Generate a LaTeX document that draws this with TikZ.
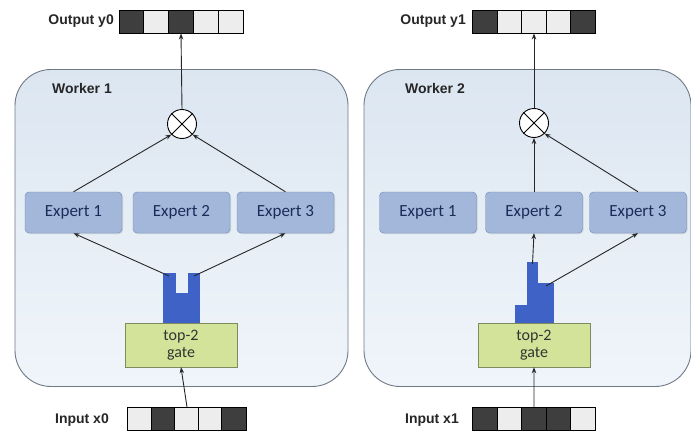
\documentclass[tikz,border=0pt]{standalone}
\usepackage{fontspec}
\setmainfont{Liberation Sans}
\newfontfamily\carlito{Carlito}
\usetikzlibrary{arrows.meta,shadows}
\definecolor{wbg}{HTML}{DCE6F1}
\definecolor{wbg2}{HTML}{F0F5FA}
\definecolor{wline}{HTML}{6F7A86}
\definecolor{expfill}{HTML}{A2B7DA}
\definecolor{expline}{HTML}{7189B6}
\definecolor{exptext}{HTML}{1C2C58}
\definecolor{gatefill}{HTML}{D4E39A}
\definecolor{gateline}{HTML}{7F8A60}
\definecolor{bar}{HTML}{3F62C6}
\definecolor{cdark}{HTML}{3E3E3E}
\definecolor{clight}{HTML}{EDEDED}
\tikzset{
  workerbox/.style={draw=wline, line width=0.9pt, rounded corners=36pt, top color=wbg, bottom color=wbg2, minimum width=333pt, minimum height=317pt, inner sep=0pt},
  expbox/.style={draw=expline, fill=expfill, rounded corners=4pt, minimum width=97pt, minimum height=41pt, text=exptext, inner sep=0pt, font=\carlito\fontsize{17}{19}\selectfont, drop shadow={opacity=0.25, shadow xshift=1pt, shadow yshift=-1pt}},
  gatebox/.style={draw=gateline, fill=gatefill, minimum width=112pt, minimum height=44pt, text=black!80, align=center, font=\carlito\fontsize{16}{17.5}\selectfont, inner sep=0pt},
  mult/.style={circle, draw, line width=0.9pt, minimum size=29pt, inner sep=0pt, fill=white},
  cell/.style={draw=black, line width=0.9pt, minimum width=24.8pt, minimum height=23pt, inner sep=0pt},
  dk/.style={cell, fill=cdark},
  lt/.style={cell, fill=clight},
  lbl/.style={font=\bfseries\fontsize{14}{16}\selectfont, anchor=east, text=black!85, inner sep=0pt},
  wlbl/.style={font=\bfseries\fontsize{14}{16}\selectfont, anchor=west, text=black!85, inner sep=0pt},
  arr/.style={-{Stealth[length=6pt,width=4.5pt]}, line width=0.9pt, black!85},
  histbar/.style={fill=bar, draw=none}
}
\begin{document}
\begin{tikzpicture}[x=1pt,y=-1pt]
\useasboundingbox (0,0) rectangle (691,434);
% workers
\node[workerbox] (w1) at (181.5,228) {};
\node[workerbox, minimum width=327pt] (w2) at (527.5,228) {};
\node[wlbl] (w1l) at (52,88) {Worker 1};
\node[wlbl] (w2l) at (405,88) {Worker 2};
% output y0
\node[lbl] (oy0) at (114,21) {Output y0};
\foreach \i/\s in {1/dk,2/lt,3/dk,4/lt,5/lt}{
  \node[\s] (oa\i) at ({119+24.8*(\i-0.5)},21.5) {};
}
% output y1
\node[lbl] (oy1) at (466,21) {Output y1};
\foreach \i/\s in {1/dk,2/lt,3/lt,4/lt,5/dk}{
  \node[\s] (ob\i) at ({472.5+24.6*(\i-0.5)},21.5) {};
}
% inputs
\node[lbl] (ix0) at (109,420) {Input x0};
\foreach \i/\s in {1/lt,2/dk,3/lt,4/lt,5/dk}{
  \node[\s] (ia\i) at ({128+23.6*(\i-0.5)},419) {};
}
\node[lbl] (ix1) at (459,420) {Input x1};
\foreach \i/\s in {1/dk,2/lt,3/dk,4/dk,5/lt}{
  \node[\s] (ib\i) at ({473+24.4*(\i-0.5)},419) {};
}
% worker 1 contents
\node[mult] (m1) at (182,124) {};
\draw[line width=0.9pt] (m1.45) -- (m1.225) (m1.135) -- (m1.315);
\node[expbox] (e11) at (73.5,212.5) {Expert 1};
\node[expbox] (e12) at (181.5,212.5) {Expert 2};
\node[expbox] (e13) at (285.5,212.5) {Expert 3};
\node[gatebox] (g1) at (181,345) {top-2\\gate};
\fill[histbar] (163,273) rectangle (175.5,323);
\fill[histbar] (175.5,293) rectangle (187.5,323);
\fill[histbar] (187.5,273) rectangle (200,323);
\coordinate (h1a) at (169,276);
\coordinate (h1b) at (194,276);
% worker 2 contents
\node[mult] (m2) at (534,123) {};
\draw[line width=0.9pt] (m2.45) -- (m2.225) (m2.135) -- (m2.315);
\node[expbox] (e21) at (428,212.5) {Expert 1};
\node[expbox] (e22) at (534,212.5) {Expert 2};
\node[expbox] (e23) at (638,212.5) {Expert 3};
\node[gatebox] (g2) at (534,345) {top-2\\gate};
\fill[histbar] (515,305) rectangle (527,323);
\fill[histbar] (527,262) rectangle (538,323);
\fill[histbar] (538,283) rectangle (554,323);
\coordinate (h2a) at (532.5,264);
\coordinate (h2b) at (546,286);
% connectors worker 1
\draw[arr] (m1.north) -- (oa3.south);
\draw[arr] (e11.north) -- (m1.225);
\draw[arr] (e13.north) -- (m1.315);
\draw[arr] (h1a) -- (e11.south);
\draw[arr] (h1b) -- (e13.south);
\draw[arr] (ia3.north) -- (g1.south);
% connectors worker 2
\draw[arr] (m2.north) -- (ob3.south);
\draw[arr] (e22.north) -- (m2.south);
\draw[arr] (e23.north) -- (m2.315);
\draw[arr] (h2a) -- (e22.south);
\draw[arr] (h2b) -- (e23.south);
\draw[arr] (ib3.north) -- (g2.south);
\end{tikzpicture}
\end{document}
